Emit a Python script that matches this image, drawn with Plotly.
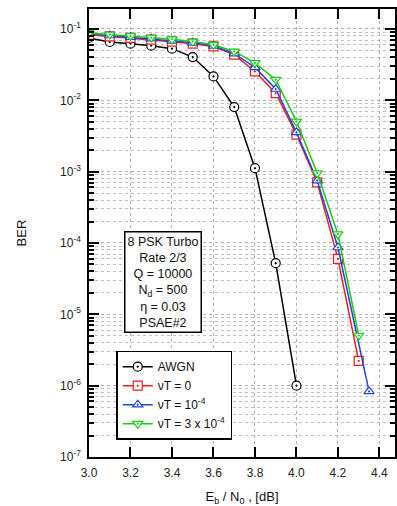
import plotly.graph_objects as go

x_awgn = [3.0, 3.1, 3.2, 3.3, 3.4, 3.5, 3.6, 3.7, 3.8, 3.9, 4.0]
ber_awgn = [0.0748, 0.0657, 0.0622, 0.0583, 0.053, 0.0404, 0.0216, 0.00805, 0.00112, 5.22e-5, 1.0e-6]

x_vt0 = [3.0, 3.1, 3.2, 3.3, 3.4, 3.5, 3.6, 3.7, 3.8, 3.9, 4.0, 4.1, 4.2, 4.3]
ber_vt0 = [0.083, 0.0787, 0.0748, 0.0708, 0.0663, 0.0622, 0.057, 0.0436, 0.0254, 0.0126, 0.0033, 7.06e-4, 6.0e-5, 2.23e-6]

x_vt1 = [3.0, 3.1, 3.2, 3.3, 3.4, 3.5, 3.6, 3.7, 3.8, 3.9, 4.0, 4.1, 4.2, 4.35]
ber_vt1 = [0.086, 0.081, 0.077, 0.073, 0.068, 0.064, 0.058, 0.045, 0.0289, 0.0144, 0.00355, 7.5e-4, 8.65e-5, 8.3e-7]

x_vt3 = [3.0, 3.1, 3.2, 3.3, 3.4, 3.5, 3.6, 3.7, 3.8, 3.9, 4.0, 4.1, 4.2, 4.3]
ber_vt3 = [0.088, 0.084, 0.08, 0.076, 0.072, 0.067, 0.06, 0.0485, 0.0334, 0.0195, 0.00506, 9.55e-4, 1.33e-4, 5.05e-6]

x_ticks = [3.0, 3.2, 3.4, 3.6, 3.8, 4.0, 4.2, 4.4]
x_ticktext = ["3.0", "3.2", "3.4", "3.6", "3.8", "4.0", "4.2", "4.4"]
y_ticks = [1e-7, 1e-6, 1e-5, 1e-4, 1e-3, 1e-2, 1e-1]
y_ticktext = ["10<sup>-7</sup>", "10<sup>-6</sup>", "10<sup>-5</sup>", "10<sup>-4</sup>",
              "10<sup>-3</sup>", "10<sup>-2</sup>", "10<sup>-1</sup>"]

series = [
    ("AWGN", x_awgn, ber_awgn, "#000000", "circle-dot"),
    ("νT = 0", x_vt0, ber_vt0, "#ff1a1a", "square-dot"),
    ("νT = 10<sup>-4</sup>", x_vt1, ber_vt1, "#2244dd", "triangle-up-dot"),
    ("νT = 3 x 10<sup>-4</sup>", x_vt3, ber_vt3, "#19cc19", "triangle-down-dot"),
]

fig = go.Figure()
for name, xs, ys, col, sym in series:
    fig.add_trace(go.Scatter(
        x=xs, y=ys, name=name, mode="lines+markers",
        line=dict(color=col, width=1.5),
        marker=dict(symbol=sym, size=9, color="white", line=dict(color=col, width=1.2)),
    ))

font = dict(family="Liberation Sans, Arial, sans-serif", size=12, color="#222")

fig.update_layout(
    width=397, height=506,
    margin=dict(l=89, r=0, t=9, b=49),
    paper_bgcolor="white", plot_bgcolor="white",
    font=font,
    showlegend=True,
    legend=dict(x=0.089, y=0.2374, xanchor="left", yanchor="top",
                bgcolor="white", bordercolor="black", borderwidth=1.5,
                font=dict(family="Liberation Sans, Arial, sans-serif", size=12, color="#111"),
                tracegroupgap=0, itemwidth=30),
    xaxis=dict(
        range=[3.0, 4.475], tickvals=x_ticks, ticktext=x_ticktext,
        ticks="inside", ticklen=10, tickwidth=1.5, tickcolor="black",
        showline=True, linecolor="black", linewidth=1.5, mirror="ticks",
        showgrid=True, gridcolor="#b0b0b0", griddash="dot", gridwidth=1,
        zeroline=False,
        title=dict(text="E<sub>b</sub> / N<sub>0</sub> , [dB]", font=dict(size=13, color="#111"), standoff=16),
        tickfont=dict(size=12, color="#222"),
        ticklabelstandoff=4,
    ),
    yaxis=dict(
        type="log", range=[-7, -0.72], tickvals=y_ticks, ticktext=y_ticktext,
        ticks="inside", ticklen=10, tickwidth=2, tickcolor="black",
        showline=True, linecolor="black", linewidth=1.5, mirror="ticks",
        showgrid=True, gridcolor="#b0b0b0", griddash="dot", gridwidth=1,
        zeroline=False,
        minor=dict(ticks="inside", ticklen=5, tickwidth=1.5, tickcolor="black",
                   showgrid=True, gridcolor="#c0c0c0", griddash="dot", gridwidth=1, dtick="D1"),
        title=dict(text="BER", font=dict(size=13, color="#111"), standoff=30),
        tickfont=dict(size=12, color="#222"),
        ticklabelstandoff=4,
    ),
)

fig.add_annotation(
    x=0.243, y=0.39, xref="paper", yref="paper", xanchor="center", yanchor="middle",
    text="8 PSK Turbo<br>Rate 2/3<br>Q = 10000<br>N<sub>d</sub> = 500<br>η = 0.03<br>PSAE#2",
    showarrow=False, align="center",
    font=dict(family="Liberation Sans, Arial, sans-serif", size=12.5, color="#111"),
    bgcolor="white", bordercolor="black", borderwidth=1.5, borderpad=2,
)

fig.write_html("out.html")
